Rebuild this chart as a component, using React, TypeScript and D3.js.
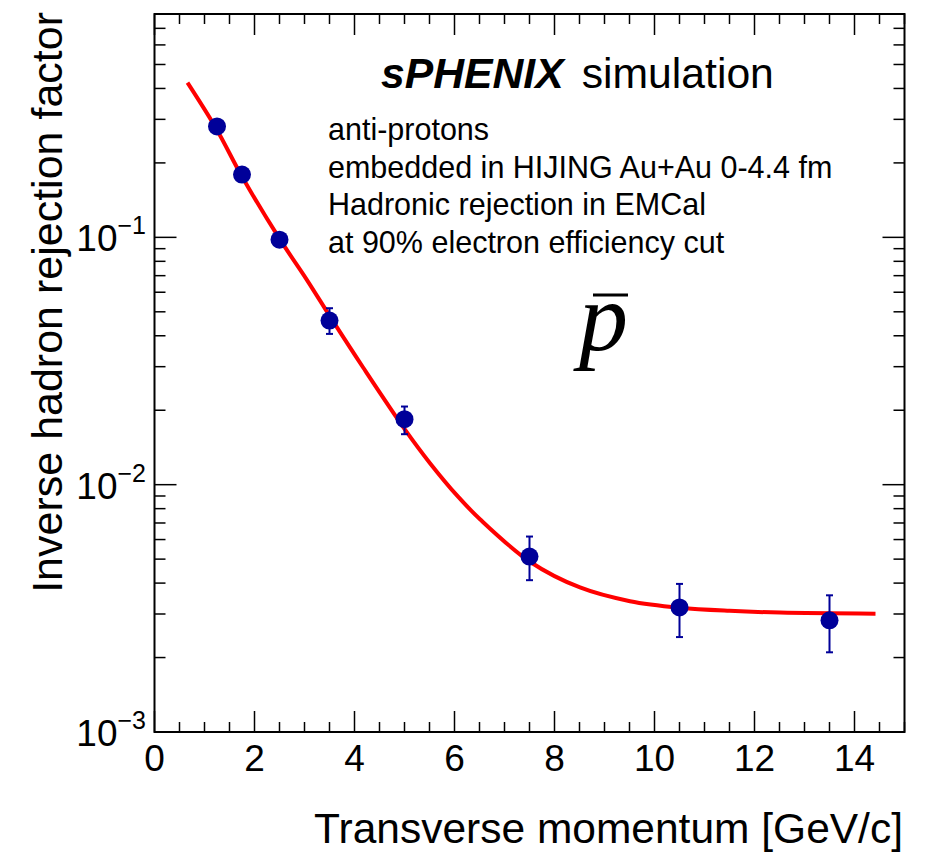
import React from "react";
import * as d3 from "d3";

const ptX = [1.25, 1.75, 2.5, 3.5, 5, 7.5, 10.5, 13.5];
const ptY = [0.281, 0.1795, 0.0979, 0.0461, 0.0184, 0.00512, 0.00319, 0.00283];
const errUp = [0.006, 0.004, 0.002, 0.0056, 0.0023, 0.00105, 0.00078, 0.00074];
const errDown = [0.006, 0.004, 0.002, 0.0054, 0.0024, 0.00101, 0.00077, 0.00073];

const fitX = [0.66, 1.244, 1.744, 2.496, 3.044, 3.544, 4.176, 5.01, 5.51, 6.076, 6.51, 7.51, 8.51, 9.51, 10.51, 11.5, 12.51, 14.42];
const fitY = [0.422, 0.273, 0.177, 0.099, 0.0675, 0.0467, 0.0297, 0.0167, 0.01222, 0.00892, 0.00725, 0.00488, 0.00384, 0.00338, 0.00318, 0.00309, 0.00304, 0.00301];

const xTicks = [0, 2, 4, 6, 8, 10, 12, 14];
const yExps = [-3, -2, -1];

const infoLines = [
  "anti-protons",
  "embedded in HIJING Au+Au 0-4.4 fm",
  "Hadronic rejection in EMCal",
  "at 90% electron efficiency cut",
];

const W = 930, H = 852;
const L = 154.5, R = 904.5, T = 14, B = 732;
const FONT = "'Liberation Sans', Arial, Helvetica, sans-serif";

export default function App() {
  const x = d3.scaleLinear().domain([0, 15]).range([L, R]);
  const y = d3.scaleLog().domain([0.001, 0.8]).range([B, T]);

  const xMinor = d3.range(0, 15.01, 0.5);
  const yMinor: number[] = [];
  for (let e = -3; e <= -1; e++) {
    for (let m = 1; m <= 9; m++) {
      const v = m * Math.pow(10, e);
      if (v >= 0.001 && v <= 0.8) yMinor.push(v);
    }
  }

  const line = d3
    .line<number>()
    .x((_, i) => x(fitX[i]))
    .y((_, i) => y(fitY[i]))
    .curve(d3.curveCatmullRom.alpha(0.5));

  const navy = "#000099";

  return (
    <svg width={W} height={H} style={{ position: "absolute", left: 0, top: 0, background: "#fff" }} fontFamily={FONT}>
      <rect x={0} y={0} width={W} height={H} fill="#fff" />
      {xMinor.map((v, i) => {
        const major = Math.abs(v / 2 - Math.round(v / 2)) < 1e-6;
        const len = major ? 21 : 10;
        return (
          <g key={"xt" + i} stroke="#000" strokeWidth={1.5}>
            <line x1={x(v)} x2={x(v)} y1={B} y2={B - len} />
            <line x1={x(v)} x2={x(v)} y1={T} y2={T + len} />
          </g>
        );
      })}
      {yMinor.map((v, i) => {
        const major = Math.abs(Math.log10(v) - Math.round(Math.log10(v))) < 1e-6;
        const len = major ? 22 : 11;
        return (
          <g key={"yt" + i} stroke="#000" strokeWidth={1.5}>
            <line x1={L} x2={L + len} y1={y(v)} y2={y(v)} />
            <line x1={R} x2={R - len} y1={y(v)} y2={y(v)} />
          </g>
        );
      })}
      <rect x={L} y={T} width={R - L} height={B - T} fill="none" stroke="#000" strokeWidth={2} />

      {xTicks.map((v) => (
        <text key={"xl" + v} x={x(v)} y={771} fontSize={37} textAnchor="middle" fill="#000">
          {v}
        </text>
      ))}
      {yExps.map((e) => (
        <text key={"yl" + e} x={146} y={y(Math.pow(10, e)) + 14} fontSize={37} textAnchor="end" fill="#000">
          10
          <tspan fontSize={25} dy={-17}>
            {"\u2212" + Math.abs(e)}
          </tspan>
        </text>
      ))}

      <text x={903} y={843} fontSize={42.5} textAnchor="end" fill="#000">
        Transverse momentum [GeV/c]
      </text>
      <text transform={`translate(62,12) rotate(-90)`} fontSize={43} textAnchor="end" fill="#000">
        Inverse hadron rejection factor
      </text>

      <text x={381} y={88} fontSize={42.7} fill="#000">
        <tspan fontWeight="bold" fontStyle="italic">sPHENIX</tspan>
        <tspan dx={18}>simulation</tspan>
      </text>
      {infoLines.map((s, i) => (
        <text key={"info" + i} x={328} y={140 + i * 37.7} fontSize={30.5} fill="#000">
          {s}
        </text>
      ))}
      <text x={579} y={350} fontSize={98} fontStyle="italic" fontFamily="'Liberation Serif', 'Times New Roman', serif" fill="#000">
        p
      </text>
      <line x1={593} x2={628} y1={295} y2={295} stroke="#000" strokeWidth={3} />

      <path d={line(fitX) || ""} fill="none" stroke="#ff0000" strokeWidth={4} />

      {ptX.map((v, i) => (
        <g key={"pt" + i} stroke={navy} strokeWidth={2}>
          <line x1={x(v)} x2={x(v)} y1={y(ptY[i] + errUp[i])} y2={y(ptY[i] - errDown[i])} />
          <line x1={x(v) - 3.5} x2={x(v) + 3.5} y1={y(ptY[i] + errUp[i])} y2={y(ptY[i] + errUp[i])} />
          <line x1={x(v) - 3.5} x2={x(v) + 3.5} y1={y(ptY[i] - errDown[i])} y2={y(ptY[i] - errDown[i])} />
          <circle cx={x(v)} cy={y(ptY[i])} r={9} fill={navy} stroke="none" />
        </g>
      ))}
    </svg>
  );
}
